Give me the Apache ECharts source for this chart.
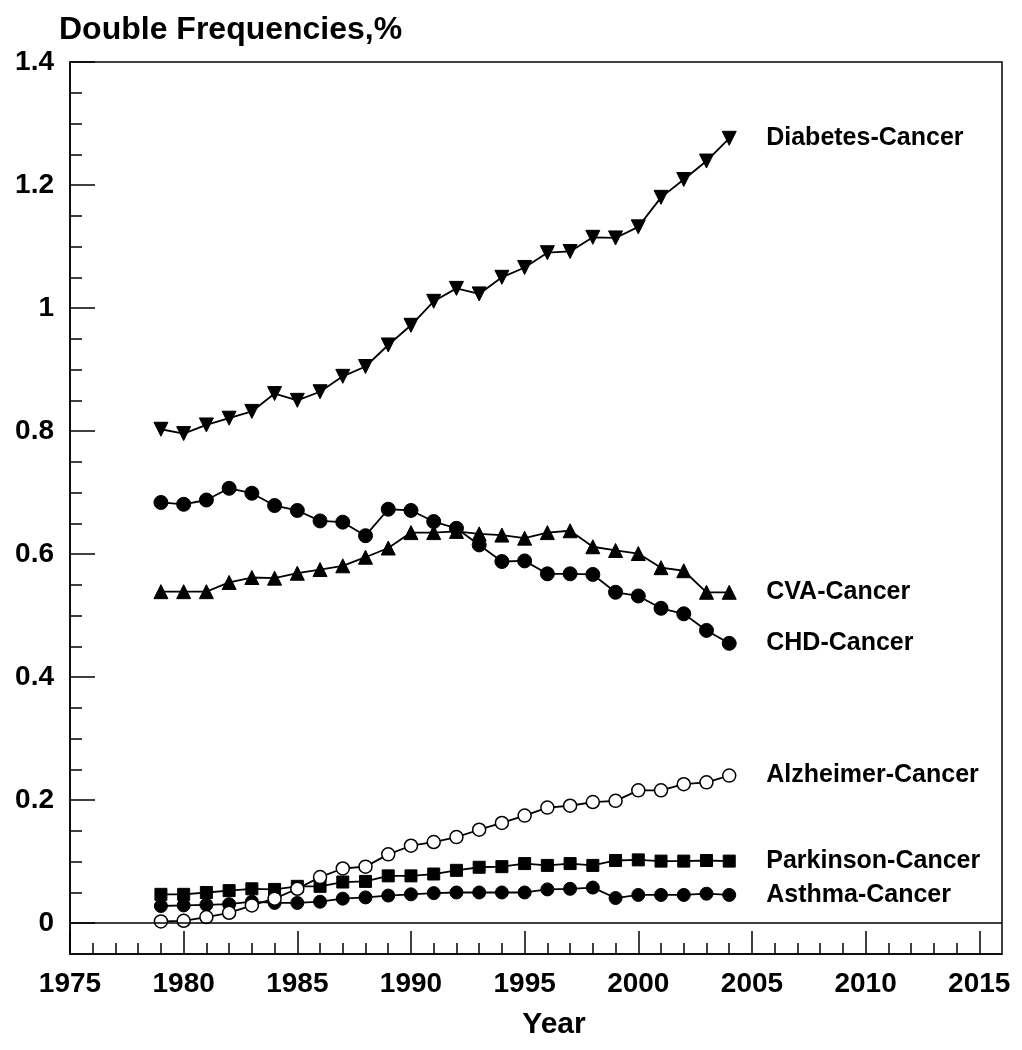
<!DOCTYPE html>
<html>
<head>
<meta charset="utf-8">
<script src="https://cdn.jsdelivr.net/npm/echarts@6/dist/echarts.min.js"></script>
<style>
html,body{margin:0;padding:0;background:#fff;}
#chart{width:1022px;height:1050px;}
</style>
</head>
<body>
<div id="chart"></div>
<script>
const years = [1979,1980,1981,1982,1983,1984,1985,1986,1987,1988,1989,1990,1991,1992,1993,1994,1995,1996,1997,1998,1999,2000,2001,2002,2003,2004];
const diabetesCancer = [0.803,0.796,0.810,0.821,0.832,0.861,0.850,0.864,0.889,0.905,0.940,0.972,1.011,1.032,1.023,1.050,1.066,1.090,1.092,1.115,1.114,1.132,1.180,1.209,1.239,1.276];
const cvaCancer = [0.539,0.539,0.539,0.554,0.562,0.561,0.569,0.575,0.581,0.595,0.610,0.635,0.635,0.637,0.633,0.631,0.626,0.635,0.638,0.612,0.606,0.601,0.578,0.573,0.538,0.538];
const chdCancer = [0.684,0.681,0.688,0.707,0.699,0.679,0.671,0.654,0.652,0.630,0.673,0.671,0.653,0.642,0.615,0.588,0.589,0.568,0.568,0.567,0.538,0.532,0.512,0.503,0.476,0.455];
const alzheimerCancer = [0.003,0.004,0.010,0.017,0.029,0.040,0.056,0.075,0.089,0.092,0.112,0.126,0.132,0.140,0.152,0.163,0.175,0.188,0.191,0.197,0.199,0.216,0.216,0.226,0.229,0.240];
const parkinsonCancer = [0.047,0.047,0.050,0.053,0.056,0.055,0.060,0.060,0.067,0.068,0.077,0.077,0.080,0.086,0.091,0.092,0.097,0.094,0.097,0.094,0.102,0.103,0.101,0.101,0.102,0.101];
const asthmaCancer = [0.028,0.029,0.030,0.031,0.035,0.033,0.033,0.035,0.040,0.042,0.045,0.047,0.049,0.050,0.050,0.050,0.050,0.055,0.056,0.058,0.041,0.046,0.046,0.046,0.048,0.046];

const xTickLabels = [1975,1980,1985,1990,1995,2000,2005,2010,2015];
const xMinorTicks = [1976,1977,1978,1979,1981,1982,1983,1984,1986,1987,1988,1989,1991,1992,1993,1994,1996,1997,1998,1999,2001,2002,2003,2004,2006,2007,2008,2009,2011,2012,2013,2014];
const yTickLabels = [0,0.2,0.4,0.6,0.8,1,1.2,1.4];
const yMinorTicks = [0.05,0.1,0.15,0.25,0.3,0.35,0.45,0.5,0.55,0.65,0.7,0.75,0.85,0.9,0.95,1.05,1.1,1.15,1.25,1.3,1.35];

const FONT = '"Liberation Sans", Arial, Helvetica, sans-serif';
const chart = echarts.init(document.getElementById('chart'), null, {renderer:'canvas'});

function pairs(arr){ return years.map((y,i)=>[y,arr[i]]); }
function mk(name, arr, symbol, size, extra){
  return Object.assign({
    name: name,
    type: 'line',
    xAxisIndex: 0, yAxisIndex: 0,
    data: pairs(arr),
    symbol: symbol,
    symbolSize: size,
    showAllSymbol: true,
    animation: false,
    lineStyle: {color:'#000', width:1.8},
    itemStyle: {color:'#000', borderColor:'#000'},
    endLabel: {show:true, formatter: name, distance: 37, color:'#000', fontSize: 25, fontWeight:'bold', fontFamily: FONT},
    emphasis: {disabled:true}
  }, extra || {});
}

const option = {
  backgroundColor: '#fff',
  animation: false,
  title: {
    text: 'Double Frequencies,%',
    left: 54, top: 9,
    textStyle: {fontSize: 32, fontWeight: 'bold', color:'#000', fontFamily: FONT}
  },
  grid: {left: 70, top: 62, right: 20, bottom: 96, show: true, borderColor:'#000', borderWidth: 1.5, backgroundColor:'transparent', containLabel:false},
  xAxis: [
    {
      type:'value', min:1975, max:2016, position:'bottom',
      name:'Year', nameLocation:'middle', nameGap: 56,
      nameTextStyle:{fontSize:30, fontWeight:'bold', color:'#000', fontFamily: FONT, padding:[0,0,0,36]},
      axisLine:{show:true, onZero:false, lineStyle:{color:'#000', width:1.5}},
      axisTick:{show:true, inside:true, length:23, customValues: xTickLabels, lineStyle:{color:'#000', width:1.5}},
      axisLabel:{show:true, customValues: xTickLabels, margin:16, fontSize:28, fontWeight:'bold', color:'#000', fontFamily: FONT,
        formatter: v => String(Math.round(v))},
      splitLine:{show:false}
    },
    {
      type:'value', min:1975, max:2016, position:'bottom', gridIndex:0,
      axisLine:{show:false, onZero:false},
      axisTick:{show:true, inside:true, length:11, customValues: xMinorTicks, lineStyle:{color:'#000', width:1.5}},
      axisLabel:{show:false},
      splitLine:{show:false}
    }
  ],
  yAxis: [
    {
      type:'value', min:-0.05, max:1.4, position:'left',
      axisLine:{show:true, onZero:false, lineStyle:{color:'#000', width:1.5}},
      axisTick:{show:true, inside:true, length:25, customValues: yTickLabels, lineStyle:{color:'#000', width:1.5}},
      axisLabel:{show:true, customValues: yTickLabels, margin:16, fontSize:28, fontWeight:'bold', color:'#000', fontFamily: FONT,
        formatter: v => String(+(+v).toFixed(2))},
      splitLine:{show:false}
    },
    {
      type:'value', min:-0.05, max:1.4, position:'left', gridIndex:0,
      axisLine:{show:false, onZero:false},
      axisTick:{show:true, inside:true, length:12, customValues: yMinorTicks, lineStyle:{color:'#000', width:1.5}},
      axisLabel:{show:false},
      splitLine:{show:false}
    }
  ],
  series: [
    mk('Asthma-Cancer', asthmaCancer, 'circle', 13),
    mk('Parkinson-Cancer', parkinsonCancer, 'rect', 12),
    mk('Alzheimer-Cancer', alzheimerCancer, 'circle', 13, {
      itemStyle:{color:'#fff', borderColor:'#000', borderWidth:1.5},
      markLine:{silent:true, symbol:['none','none'], label:{show:false}, animation:false,
        lineStyle:{color:'#000', width:1.5, type:'solid'}, data:[{yAxis:0}]}
    }),
    mk('CHD-Cancer', chdCancer, 'circle', 14),
    mk('CVA-Cancer', cvaCancer, 'triangle', 14),
    mk('Diabetes-Cancer', diabetesCancer, 'triangle', 14, {symbolRotate:180})
  ]
};
chart.setOption(option);
</script>
</body>
</html>
